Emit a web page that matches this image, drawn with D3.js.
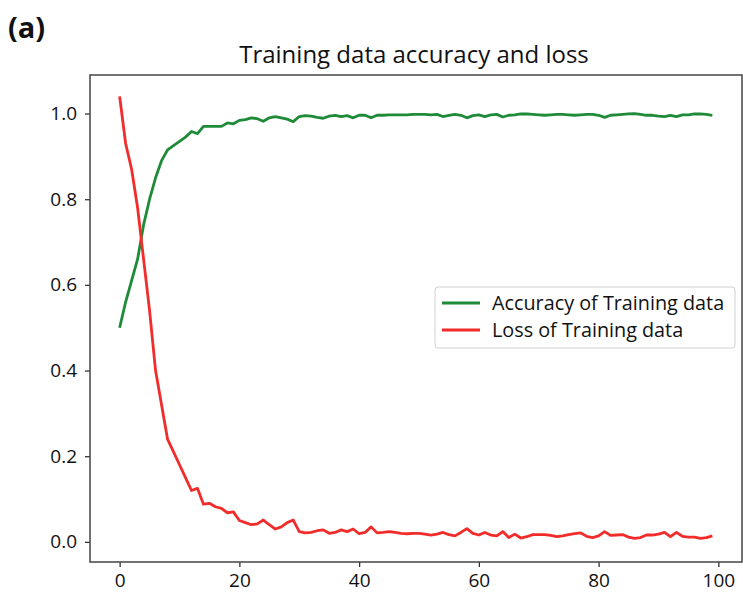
<!DOCTYPE html>
<html>
<head>
<meta charset="utf-8">
<script src="https://cdn.jsdelivr.net/npm/d3@7"></script>
<style>
  body { margin: 0; background: #fff; }
  svg text { font-family: "Open Sans", Lato, sans-serif; fill: #111; }
</style>
</head>
<body>
<div id="chart"></div>
<script>
// epochs 0..99
const epochs = d3.range(0, 100);

const accuracy = [
  0.50, 0.56, 0.61, 0.66, 0.74, 0.80, 0.85, 0.89, 0.915, 0.925,
  0.935, 0.945, 0.958, 0.953, 0.970, 0.970, 0.970, 0.970, 0.978, 0.976,
  0.984, 0.986, 0.990, 0.988, 0.982, 0.990, 0.993, 0.990, 0.987, 0.981,
  0.993, 0.995, 0.994, 0.991, 0.989, 0.994, 0.996, 0.993, 0.995, 0.990,
  0.996, 0.996, 0.990, 0.996, 0.996, 0.997, 0.997, 0.997, 0.997, 0.998,
  0.998, 0.998, 0.997, 0.998, 0.993, 0.996, 0.998, 0.996, 0.990, 0.995,
  0.997, 0.993, 0.997, 0.998, 0.992, 0.996, 0.997, 0.999, 0.999, 0.998,
  0.997, 0.996, 0.997, 0.998, 0.998, 0.997, 0.996, 0.997, 0.998, 0.998,
  0.996, 0.991, 0.996, 0.997, 0.998, 0.999, 1.000, 0.998, 0.996, 0.996,
  0.994, 0.993, 0.996, 0.993, 0.997, 0.997, 0.999, 0.999, 0.998, 0.996
];

const loss = [
  1.04, 0.93, 0.87, 0.78, 0.66, 0.54, 0.40, 0.32, 0.24, 0.21,
  0.18, 0.15, 0.12, 0.125, 0.088, 0.090, 0.082, 0.078, 0.068, 0.070,
  0.050, 0.045, 0.040, 0.042, 0.051, 0.040, 0.030, 0.035, 0.045, 0.051,
  0.024, 0.021, 0.022, 0.026, 0.028, 0.020, 0.022, 0.028, 0.024, 0.030,
  0.019, 0.022, 0.035, 0.021, 0.022, 0.024, 0.022, 0.020, 0.019, 0.020,
  0.020, 0.018, 0.016, 0.018, 0.022, 0.017, 0.014, 0.022, 0.031, 0.020,
  0.016, 0.022, 0.016, 0.014, 0.024, 0.010, 0.018, 0.009, 0.012, 0.017,
  0.017, 0.017, 0.015, 0.012, 0.014, 0.017, 0.019, 0.021, 0.013, 0.010,
  0.014, 0.024, 0.015, 0.016, 0.017, 0.011, 0.008, 0.010, 0.016, 0.016,
  0.018, 0.022, 0.012, 0.022, 0.013, 0.011, 0.011, 0.008, 0.010, 0.014
];

const xTicks = [0, 20, 40, 60, 80, 100];
const yTicks = [0.0, 0.2, 0.4, 0.6, 0.8, 1.0];
const seriesNames = ["Accuracy of Training data", "Loss of Training data"];
const seriesColors = ["#1f8a38", "#f22b2b"];

const W = 743, H = 595;
const frame = {left: 90, right: 742, top: 75, bottom: 562};

const svg = d3.select('#chart').append('svg')
  .attr('width', W)
  .attr('height', H);

// matplotlib-style padded limits
let x = d3.scaleLinear().domain([-4.95, 103.95]).range([frame.left, frame.right]);
let y = d3.scaleLinear().domain([-0.047, 1.09]).range([frame.bottom, frame.top]);

// panel label and title
svg.append('text')
  .attr('x', 8).attr('y', 38)
  .style('font-size', '29px').style('font-weight', 'bold')
  .text('(a)');
svg.append('text')
  .attr('x', 414).attr('y', 63)
  .attr('text-anchor', 'middle')
  .style('font-size', '24px')
  .text('Training data accuracy and loss');

// axes
const xAxis = svg.append('g')
  .attr('transform', 'translate(0,' + frame.bottom + ')')
  .call(d3.axisBottom(x).tickValues(xTicks).tickFormat(d3.format('d')).tickSize(5).tickPadding(7));
const yAxis = svg.append('g')
  .attr('transform', 'translate(' + frame.left + ',0)')
  .call(d3.axisLeft(y).tickValues(yTicks).tickFormat(d3.format('.1f')).tickSize(5).tickPadding(8));

[xAxis, yAxis].forEach(a => {
  a.select('.domain').remove();
  a.selectAll('line').attr('stroke', '#333').attr('stroke-width', 1.3);
  a.selectAll('text').style('font-size', '19px').style('font-family', '"Open Sans", sans-serif').attr('fill', '#111');
});

// frame
svg.append('rect')
  .attr('x', frame.left).attr('y', frame.top)
  .attr('width', frame.right - frame.left)
  .attr('height', frame.bottom - frame.top)
  .attr('fill', 'none')
  .attr('stroke', '#444')
  .attr('stroke-width', 1.5);

// lines
const line = vals => d3.line()
  .x((d, i) => x(epochs[i]))
  .y(d => y(d))(vals);

[accuracy, loss].forEach((vals, k) => {
  svg.append('path')
    .attr('d', line(vals))
    .attr('fill', 'none')
    .attr('stroke', seriesColors[k])
    .attr('stroke-width', 2.8)
    .attr('stroke-linejoin', 'round');
});

// legend
const lg = svg.append('g').attr('transform', 'translate(435,287)');
lg.append('rect')
  .attr('width', 300).attr('height', 61)
  .attr('rx', 3)
  .attr('fill', '#fff')
  .attr('stroke', '#d0d0d0');
seriesNames.forEach((name, k) => {
  const yy = 16 + k * 27;
  lg.append('line')
    .attr('x1', 7).attr('x2', 45)
    .attr('y1', yy).attr('y2', yy)
    .attr('stroke', seriesColors[k])
    .attr('stroke-width', 2.8);
  lg.append('text')
    .attr('x', 57).attr('y', yy + 7)
    .style('font-size', '19.8px')
    .text(name);
});
</script>
</body>
</html>
